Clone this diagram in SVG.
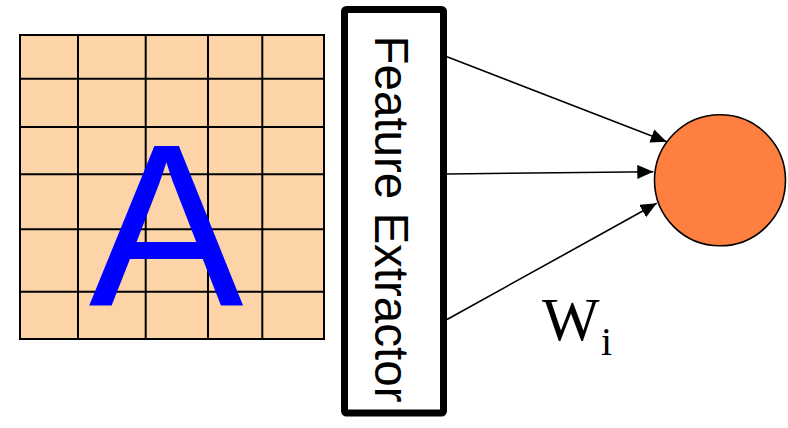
<svg xmlns="http://www.w3.org/2000/svg" width="788" height="428" viewBox="0 0 788 428">
<style>
.grid{stroke:#000;stroke-width:2;fill:none}
.conn{stroke:#000;stroke-width:1.6;fill:none}
</style>
<defs>
<marker id="arr" markerUnits="userSpaceOnUse" markerWidth="17" markerHeight="15" refX="16" refY="7" orient="auto">
<path d="M0,0 L16,7 L0,14 Z" fill="#000"/>
</marker>
</defs>
<rect width="788" height="428" fill="#fff"/>
<g id="image-grid">
<rect x="20" y="35" width="304" height="304" fill="#FDD4A8"/>
<path class="grid" d="M20,35H324V339H20Z M78,35V339 M145.7,35V339 M208,35V339 M262.3,35V339 M20,78.7H324 M20,127H324 M20,174.3H324 M20,229.3H324 M20,291.7H324"/>
<text x="166" y="306" font-family="Liberation Sans, Arial, sans-serif" font-size="232" fill="#0000FF" text-anchor="middle">A</text>
</g>
<g id="feature-extractor">
<rect x="344.5" y="9.5" width="99" height="403.5" rx="2" fill="#fff" stroke="#000" stroke-width="7"/>
<text transform="translate(374.5,219) rotate(90)" font-family="Liberation Sans, Arial, sans-serif" font-size="47.5" fill="#000" text-anchor="middle">Feature Extractor</text>
</g>
<g id="neuron">
<circle cx="720" cy="180.3" r="65.5" fill="#FF7F40" stroke="#000" stroke-width="1.6"/>
</g>
<g id="connectors">
<line class="conn" x1="447" y1="56.7" x2="666.7" y2="141.7" marker-end="url(#arr)"/>
<line class="conn" x1="447" y1="174" x2="653.3" y2="171.7" marker-end="url(#arr)"/>
<line class="conn" x1="447" y1="319.5" x2="656.7" y2="203.3" marker-end="url(#arr)"/>
</g>
<g id="weight-label">
<text x="542" y="340" font-family="Liberation Serif, Times New Roman, serif" font-size="61" fill="#000">W</text>
<text x="601" y="355" font-family="Liberation Serif, Times New Roman, serif" font-size="40" fill="#000">i</text>
</g>
</svg>
